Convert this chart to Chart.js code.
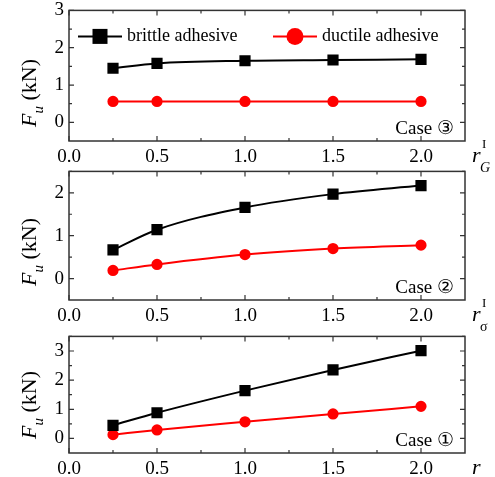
<!DOCTYPE html>
<html>
<head>
<meta charset="utf-8">
<script src="https://cdn.jsdelivr.net/npm/chart.js@4"></script>
<style>
  body { margin: 0; background: #fff; }
  #wrap { position: relative; width: 495px; height: 477px; overflow: hidden; }
  canvas { position: absolute; left: 0; }
</style>
</head>
<body>
<div id="wrap">
  <canvas id="case3" width="495" height="182" style="top:-6px"></canvas>
  <canvas id="case2" width="495" height="180" style="top:155px"></canvas>
  <canvas id="case1" width="495" height="157" style="top:320px"></canvas>
</div>
<script>
// ratio values on x
const rValues = [0.25, 0.5, 1.0, 1.5, 2.0];

// F_u (kN)
const case3Brittle = [1.45, 1.58, 1.65, 1.67, 1.69];
const case3Ductile = [0.56, 0.56, 0.56, 0.56, 0.56];
const case2Brittle = [0.67, 1.14, 1.66, 1.97, 2.17];
const case2Ductile = [0.19, 0.33, 0.56, 0.70, 0.78];
const case1Brittle = [0.45, 0.88, 1.64, 2.35, 3.01];
const case1Ductile = [0.13, 0.29, 0.57, 0.84, 1.10];

const xTicks = [0.0, 0.5, 1.0, 1.5, 2.0];
const xMinorTicks = [0.25, 0.75, 1.25, 1.75];
const yTicks3 = [0, 1, 2, 3];
const yTicks2 = [0, 1, 2];
const yTicks1 = [0, 1, 2, 3];

const seriesNames = ['brittle adhesive', 'ductile adhesive'];

const serif = '"Liberation Serif", "Times New Roman", serif';
const frameColor = '#333';

const toXY = (ys) => ys.map((y, i) => ({ x: rValues[i], y: y }));

// frame, inward ticks, titles, legend and case label
const panelDeco = {
  id: 'panelDeco',
  afterDraw(chart, args, opts) {
    const ctx = chart.ctx;
    const a = chart.chartArea;
    const xs = chart.scales.x, ys = chart.scales.y;
    ctx.save();
    ctx.strokeStyle = frameColor;
    ctx.lineWidth = 1.5;
    ctx.strokeRect(a.left, a.top, a.right - a.left, a.bottom - a.top);

    ctx.lineWidth = 1.2;
    ctx.beginPath();
    const xt = (v, len) => {
      const px = xs.getPixelForValue(v);
      ctx.moveTo(px, a.bottom); ctx.lineTo(px, a.bottom - len);
      ctx.moveTo(px, a.top); ctx.lineTo(px, a.top + len);
    };
    const yt = (v, len) => {
      const py = ys.getPixelForValue(v);
      ctx.moveTo(a.left, py); ctx.lineTo(a.left + len, py);
      ctx.moveTo(a.right, py); ctx.lineTo(a.right - len, py);
    };
    xTicks.forEach(v => xt(v, 5));
    xMinorTicks.forEach(v => xt(v, 3));
    opts.yTicks.forEach(v => { yt(v, 5); yt(v + 0.5, 3); });
    ctx.stroke();

    // y title: F_u (kN)
    ctx.fillStyle = '#000';
    ctx.save();
    ctx.translate(36, a.bottom - 48);
    ctx.rotate(-Math.PI / 2);
    ctx.textBaseline = 'alphabetic';
    ctx.textAlign = 'left';
    ctx.font = 'italic 22px ' + serif;
    const wF = ctx.measureText('F').width;
    ctx.font = 'italic 15px ' + serif;
    const wu = ctx.measureText('u').width;
    ctx.font = '22px ' + serif;
    const wk = ctx.measureText(' (kN)').width;
    let x0 = -(wF + wu + wk) / 2;
    ctx.font = 'italic 22px ' + serif;
    ctx.fillText('F', x0, 0);
    ctx.font = 'italic 15px ' + serif;
    ctx.fillText('u', x0 + wF, 7);
    ctx.font = '22px ' + serif;
    ctx.fillText(' (kN)', x0 + wF + wu, 0);
    ctx.restore();

    // x title: r with indices
    const rx = a.right + 7, rb = a.bottom + 21;
    ctx.textAlign = 'left';
    ctx.textBaseline = 'alphabetic';
    ctx.font = 'italic 22px ' + serif;
    ctx.fillText('r', rx, rb);
    if (opts.sup) {
      ctx.font = '13px ' + serif;
      ctx.fillText(opts.sup, rx + 10, rb - 14);
    }
    if (opts.sub) {
      ctx.font = (opts.subItalic ? 'italic ' : '') + '14px ' + serif;
      ctx.fillText(opts.sub, rx + 8, rb + 10);
    }

    // case label
    ctx.font = '19px ' + serif;
    ctx.textAlign = 'right';
    ctx.fillText(opts.caseLabel, a.right - 11, a.bottom - 7);

    // legend inside top panel
    if (opts.legend) {
      const ly = a.top + 26;
      const items = [
        { x: a.left + 9, color: '#000', shape: 'rect', text: seriesNames[0] },
        { x: a.left + 204, color: '#ff0000', shape: 'circle', text: seriesNames[1] }
      ];
      ctx.font = '18px ' + serif;
      ctx.textAlign = 'left';
      ctx.textBaseline = 'middle';
      items.forEach(it => {
        ctx.strokeStyle = it.color;
        ctx.fillStyle = it.color;
        ctx.lineWidth = 2;
        ctx.beginPath();
        ctx.moveTo(it.x, ly); ctx.lineTo(it.x + 44, ly);
        ctx.stroke();
        if (it.shape === 'rect') {
          ctx.fillRect(it.x + 22 - 7.5, ly - 7.5, 15, 15);
        } else {
          ctx.beginPath();
          ctx.arc(it.x + 22, ly, 8.5, 0, Math.PI * 2);
          ctx.fill();
        }
        ctx.fillStyle = '#000';
        ctx.fillText(it.text, it.x + 49, ly);
      });
    }
    ctx.restore();
  }
};

function makePanel(id, brittle, ductile, yMin, yMax, yTicks, xAxisH, deco) {
  const ctx = document.getElementById(id).getContext('2d');
  return new Chart(ctx, {
    type: 'line',
    data: {
      datasets: [{
        label: seriesNames[0],
        data: toXY(brittle),
        borderColor: '#000',
        backgroundColor: '#000',
        borderWidth: 2,
        pointStyle: 'rect',
        pointRadius: 6.5,
        cubicInterpolationMode: 'monotone'
      }, {
        label: seriesNames[1],
        data: toXY(ductile),
        borderColor: '#ff0000',
        backgroundColor: '#ff0000',
        borderWidth: 2,
        pointStyle: 'circle',
        pointRadius: 4.6,
        cubicInterpolationMode: 'monotone'
      }]
    },
    options: {
      responsive: false,
      animation: false,
      layout: { padding: { top: 14, right: 30, left: 0, bottom: 0 } },
      scales: {
        x: {
          type: 'linear',
          min: 0,
          max: 2.25,
          afterBuildTicks: s => { s.ticks = xTicks.map(v => ({ value: v })); },
          afterFit: s => { s.height = xAxisH; },
          grid: { display: false, drawTicks: false },
          border: { display: false },
          ticks: {
            padding: 5,
            color: '#000',
            maxRotation: 0,
            font: { family: serif, size: 19 },
            callback: v => Number(v).toFixed(1)
          }
        },
        y: {
          min: yMin,
          max: yMax,
          afterBuildTicks: s => { s.ticks = yTicks.map(v => ({ value: v })); },
          afterFit: s => { s.width = 69; },
          grid: { display: false, drawTicks: false },
          border: { display: false },
          ticks: {
            padding: 5,
            color: '#000',
            font: { family: serif, size: 19 },
            callback: v => String(v)
          }
        }
      },
      plugins: {
        legend: { display: false },
        tooltip: { enabled: false },
        panelDeco: Object.assign({ yTicks: yTicks }, deco)
      }
    },
    plugins: [panelDeco]
  });
}

makePanel('case3', case3Brittle, case3Ductile, -0.5, 3, yTicks3, 35,
  { caseLabel: 'Case \u2462', sup: 'I', sub: 'G', subItalic: true, legend: true });
makePanel('case2', case2Brittle, case2Ductile, -0.5, 2.5, yTicks2, 35,
  { caseLabel: 'Case \u2461', sup: 'I', sub: '\u03c3', subItalic: false, legend: false });
makePanel('case1', case1Brittle, case1Ductile, -0.5, 3.5, yTicks1, 24,
  { caseLabel: 'Case \u2460', sup: '', sub: '', legend: false });
</script>
</body>
</html>
